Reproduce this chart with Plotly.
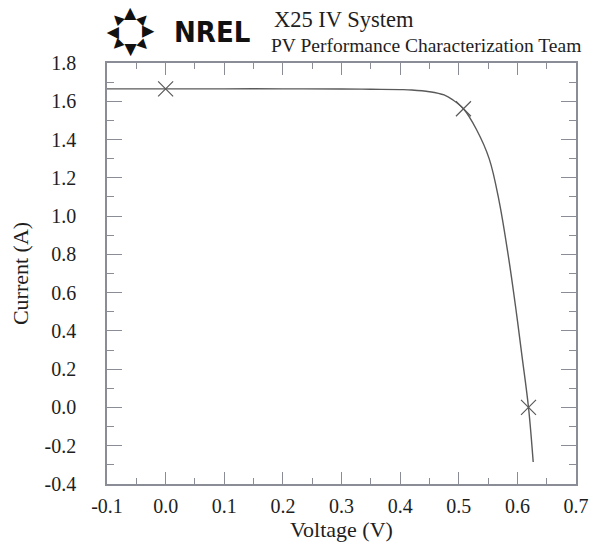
import plotly.graph_objects as go
import math

# ---- data ----
voltage = [-0.1, 0.0, 0.1, 0.2, 0.3, 0.35, 0.40, 0.42, 0.45, 0.475, 0.49, 0.508, 0.53,
           0.552, 0.569, 0.585, 0.597, 0.608, 0.619, 0.627]
current = [1.665, 1.665, 1.665, 1.665, 1.664, 1.663, 1.661, 1.659, 1.650, 1.633, 1.607,
           1.561, 1.454, 1.299, 1.076, 0.783, 0.525, 0.266, 0.0, -0.285]

marker_v = [0.0, 0.508, 0.619]
marker_i = [1.665, 1.561, 0.0]

x_tickvals = [-0.1, 0.0, 0.1, 0.2, 0.3, 0.4, 0.5, 0.6, 0.7]
x_ticktext = ["-0.1", "0.0", "0.1", "0.2", "0.3", "0.4", "0.5", "0.6", "0.7"]
y_tickvals = [-0.4, -0.2, 0.0, 0.2, 0.4, 0.6, 0.8, 1.0, 1.2, 1.4, 1.6, 1.8]
y_ticktext = ["-0.4", "-0.2", "0.0", "0.2", "0.4", "0.6", "0.8", "1.0", "1.2", "1.4", "1.6", "1.8"]

title_main = "X25 IV System"
title_sub = "PV Performance Characterization Team"
logo_text = "NREL"

SERIF = "Liberation Serif, Times New Roman, serif"
AXIS_COL = "#8a8d96"
TXT = "#1e1e1e"

fig = go.Figure()
fig.add_trace(go.Scatter(x=voltage, y=current, mode="lines", line_shape="spline",
                         line=dict(color="#5a5a5a", width=1.4), showlegend=False,
                         hoverinfo="skip"))
fig.add_trace(go.Scatter(x=marker_v, y=marker_i, mode="markers",
                         marker=dict(symbol="x-thin", size=15,
                                     line=dict(color="#5a5a5a", width=1.2)),
                         showlegend=False))

W, H = 601, 549
L, R, T, B = 107, 12, 63, 60

fig.update_layout(
    width=W, height=H,
    margin=dict(l=L, r=R, t=T, b=B),
    paper_bgcolor="white", plot_bgcolor="white",
    font=dict(family=SERIF, color=TXT),
    xaxis=dict(range=[-0.1, 0.7], tickvals=x_tickvals, ticktext=x_ticktext,
               ticks="inside", ticklen=12, tickcolor=AXIS_COL, tickwidth=1,
               minor=dict(dtick=0.05, tick0=0, ticks="inside", ticklen=6,
                          tickcolor=AXIS_COL, tickwidth=1),
               showline=True, linecolor=AXIS_COL, linewidth=1.5, mirror="ticks",
               showgrid=False, zeroline=False,
               tickfont=dict(size=20, family=SERIF, color=TXT),
               ticklabelstandoff=3,
               title=dict(text="Voltage (V)", font=dict(size=22, family=SERIF, color=TXT),
                          standoff=5)),
    yaxis=dict(range=[-0.4, 1.8], tickvals=y_tickvals, ticktext=y_ticktext,
               ticks="inside", ticklen=15, tickcolor=AXIS_COL, tickwidth=1,
               minor=dict(dtick=0.1, tick0=0, ticks="inside", ticklen=7,
                          tickcolor=AXIS_COL, tickwidth=1),
               showline=True, linecolor=AXIS_COL, linewidth=1.5, mirror="ticks",
               showgrid=False, zeroline=False,
               tickfont=dict(size=20, family=SERIF, color=TXT),
               ticklabelstandoff=25,
               title=dict(text="Current (A)", font=dict(size=22, family=SERIF, color=TXT),
                          standoff=10)),
)

def px(xp):
    return (xp - L) / (W - L - R)

def py(yp):
    return (H - B - yp) / (H - T - B)

# header text
fig.add_annotation(xref="paper", yref="paper", x=px(277), y=py(19),
                   xanchor="left", yanchor="middle", text=title_main, showarrow=False,
                   font=dict(size=22.5, family=SERIF, color=TXT))
fig.add_annotation(xref="paper", yref="paper", x=px(274), y=py(45),
                   xanchor="left", yanchor="middle", text=title_sub, showarrow=False,
                   font=dict(size=19.5, family=SERIF, color=TXT))

# logo: word mark
fig.add_annotation(xref="paper", yref="paper", x=px(174), y=py(32),
                   xanchor="left", yanchor="middle", text="<b>" + logo_text + "</b>",
                   showarrow=False,
                   font=dict(size=29, family="DejaVu Sans Condensed, DejaVu Sans", color="#111"))
# logo: ring of arrow heads
cx, cy, rad = 131, 32, 20
for k in range(8):
    ang = k * 45
    ax_ = cx + rad * math.sin(math.radians(ang))
    ay_ = cy - rad * math.cos(math.radians(ang))
    size = 16 if k % 2 == 0 else 13
    fig.add_annotation(xref="paper", yref="paper", x=px(ax_), y=py(ay_),
                       xanchor="center", yanchor="middle", text="▲", textangle=ang,
                       showarrow=False,
                       font=dict(size=size, family="DejaVu Sans", color="#111"))

fig.write_html("out.html", config={"displayModeBar": False},
               post_script="document.body.style.margin='0px';")
